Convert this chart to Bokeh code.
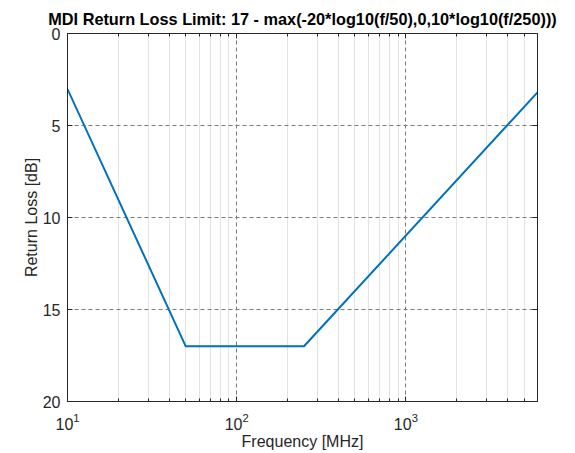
from bokeh.plotting import figure
from bokeh.models import Range1d, FixedTicker, LogAxis, LinearAxis, CustomJSTickFormatter
from bokeh.embed import file_html
from bokeh.resources import INLINE

# Data (breakpoints of the limit curve)
freq_mhz = [10, 50, 250, 6000]
return_loss_db = [3.02, 17.0, 17.0, 3.2]

x_major_ticks = [10, 100, 1000]
x_minor_ticks = [m * 10 ** e for e in (1, 2, 3) for m in range(2, 10) if m * 10 ** e < 6000]
y_ticks = [0, 5, 10, 15, 20]

FONT = "Liberation Sans"
TXT = "#262626"

p = figure(width=575, height=453, output_backend="svg", toolbar_location=None,
           x_axis_type="log", x_range=Range1d(10, 6000), y_range=Range1d(20, 0),
           title="MDI Return Loss Limit: 17 - max(-20*log10(f/50),0,10*log10(f/250)))",
           min_border_left=67, min_border_right=38, min_border_top=33, min_border_bottom=52)

p.line(freq_mhz, return_loss_db, line_color="#0072BD", line_width=2)

p.title.text_font = FONT
p.title.text_font_size = "16.3px"
p.title.text_font_style = "bold"
p.title.text_color = "black"
p.title.align = "center"
p.title.standoff = 12

p.outline_line_color = TXT
p.outline_line_width = 1
p.background_fill_color = "white"
p.border_fill_color = "white"

for ax in (p.xaxis[0], p.yaxis[0]):
    ax.axis_line_color = TXT
    ax.major_tick_line_color = TXT
    ax.minor_tick_line_color = TXT
    ax.major_tick_in = 5
    ax.major_tick_out = 0
    ax.minor_tick_in = 3
    ax.minor_tick_out = 0
    ax.major_label_text_font = FONT
    ax.major_label_text_font_size = "16px"
    ax.major_label_text_color = TXT
    ax.axis_label_text_font = FONT
    ax.axis_label_text_font_size = "16px"
    ax.axis_label_text_font_style = "normal"
    ax.axis_label_text_color = TXT

p.xaxis.ticker = FixedTicker(ticks=x_major_ticks, minor_ticks=x_minor_ticks)
p.yaxis.ticker = FixedTicker(ticks=y_ticks, minor_ticks=[])
p.xaxis.axis_label = "Frequency [MHz]"
p.yaxis.axis_label = "Return Loss [dB]"
p.xaxis.major_label_standoff = 11
p.yaxis.major_label_standoff = 7
p.xaxis.axis_label_standoff = 0
p.yaxis.axis_label_standoff = 0

p.xgrid.ticker = FixedTicker(ticks=x_major_ticks, minor_ticks=x_minor_ticks)
p.xgrid.grid_line_color = "#7a7a7a"
p.xgrid.grid_line_dash = "4 3"
p.xgrid.grid_line_width = 1
p.xgrid.minor_grid_line_color = "#e3e3e3"
p.xgrid.minor_grid_line_width = 1
p.ygrid.grid_line_color = "#7a7a7a"
p.ygrid.grid_line_dash = "4 3"
p.ygrid.grid_line_width = 1

empty = CustomJSTickFormatter(code="return ''")
top = LogAxis(ticker=FixedTicker(ticks=x_major_ticks, minor_ticks=x_minor_ticks), formatter=empty)
right = LinearAxis(ticker=FixedTicker(ticks=y_ticks, minor_ticks=[]), formatter=empty)
for ax in (top, right):
    ax.axis_line_color = TXT
    ax.major_tick_line_color = TXT
    ax.minor_tick_line_color = TXT
    ax.major_tick_in = 5
    ax.major_tick_out = 0
    ax.minor_tick_in = 3
    ax.minor_tick_out = 0
    ax.major_label_text_font_size = "0px"
    ax.major_label_standoff = 0
p.add_layout(top, "above")
p.add_layout(right, "right")

open("out.html", "w").write(file_html(p, INLINE))
